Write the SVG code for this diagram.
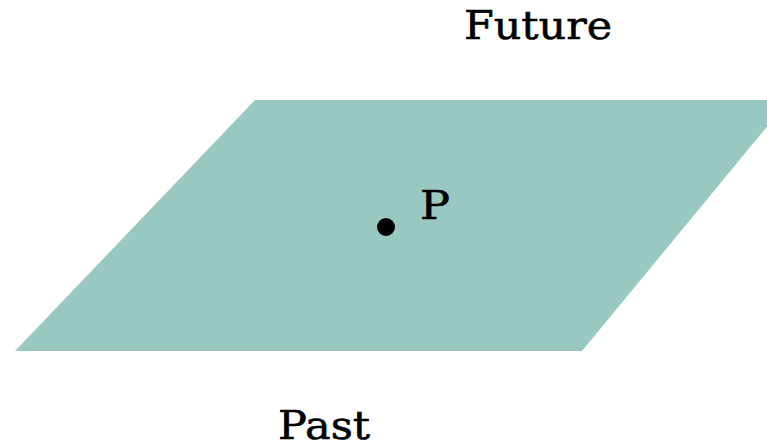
<svg xmlns="http://www.w3.org/2000/svg" width="767" height="443" viewBox="0 0 767 443">
<style>
.lbl{font-family:"DejaVu Serif","Liberation Serif",serif;font-size:40px;fill:#000;stroke:#000;stroke-width:0.6}
</style>
<rect width="767" height="443" fill="#fff"/>
<g id="plane"><polygon points="255,100 789,100 582,351 15,351" fill="#99c8c1"/></g>
<g id="future"><text class="lbl" x="464" y="39" textLength="148" lengthAdjust="spacingAndGlyphs">Future</text></g>
<g id="past"><text class="lbl" x="278" y="439" textLength="92" lengthAdjust="spacingAndGlyphs">Past</text></g>
<g id="point"><circle cx="386" cy="227" r="9" fill="#000"/><text class="lbl" x="420" y="219" textLength="30" lengthAdjust="spacingAndGlyphs">P</text></g>
<g id="connectors"/>
</svg>
